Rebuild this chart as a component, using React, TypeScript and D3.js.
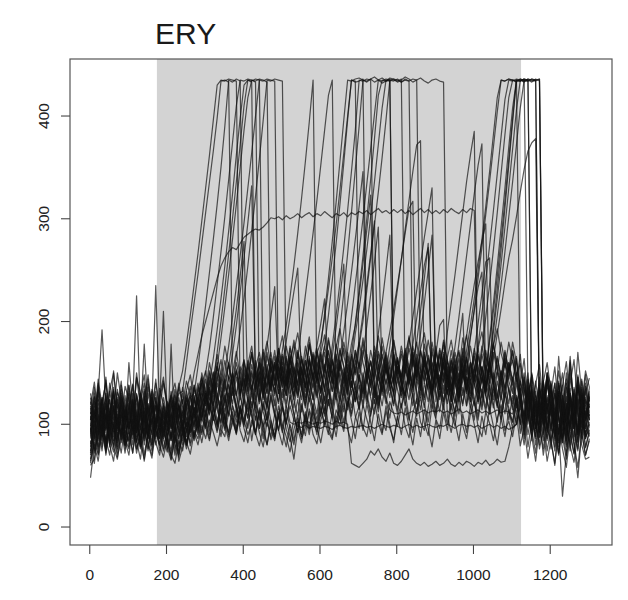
import React from 'react';
import * as d3 from 'd3';

const title = 'ERY';
const xTicks = [0, 200, 400, 600, 800, 1000, 1200];
const yTicks = [0, 100, 200, 300, 400];
const shadeStart = 175;
const shadeEnd = 1124;
const gridStart = 2;
const gridStep = 10;

const s01 = [
  62, 88, 104, 92, 118, 96, 110, 84, 122, 100,
  112, 90, 126, 98, 108, 86, 118, 102, 94, 114,
  100, 122, 108, 130, 132, 160, 190, 218, 246, 276,
  306, 336, 366, 398, 434, 435, 433, 140, 152, 128,
  160, 138, 170, 146, 158, 132, 166, 150, 172, 144,
  150, 176, 158, 182, 164, 196, 226, 256, 286, 318,
  352, 386, 420, 435, 130, 158, 136, 166, 148, 172,
  154, 180, 160, 142, 170, 150, 184, 162, 140, 168,
  152, 176, 158, 186, 164, 144, 172, 156, 182, 160,
  148, 174, 158, 190, 218, 246, 276, 306, 336, 362,
  385, 120, 146, 128, 160, 138, 152, 126, 164, 142,
  130, 150, 118, 142, 104, 128, 96, 138, 112, 84,
  122, 98, 140, 108, 86, 130, 102, 146, 92, 118,
  104,
];
const s02 = [
  74, 100, 86, 124, 94, 112, 80, 106, 92, 128,
  98, 116, 84, 104, 132, 92, 110, 88, 100, 76,
  96, 84, 110, 92, 118, 104, 126, 130, 156, 186,
  216, 248, 280, 314, 350, 390, 435, 433, 436, 434,
  128, 150, 134, 162, 140, 170, 148, 136, 158, 142,
  166, 144, 174, 152, 138, 164, 146, 178, 156, 140,
  168, 150, 182, 160, 144, 172, 156, 138, 166, 148,
  176, 200, 230, 262, 294, 326, 360, 396, 435, 434,
  436, 433, 435, 434, 436, 435, 140, 162, 146, 170,
  152, 134, 160, 144, 172, 150, 138, 164, 148, 176,
  156, 140, 168, 150, 180, 210, 244, 280, 318, 358,
  398, 435, 434, 436, 435, 98, 122, 88, 134, 106,
  142, 116, 90, 128, 104, 150, 118, 94, 136, 110,
  126,
];
const s03 = [
  90, 118, 76, 102, 130, 88, 114, 96, 124, 82,
  108, 94, 120, 80, 112, 100, 92, 118, 104, 86,
  112, 96, 124, 102, 90, 118, 128, 112, 136, 124,
  150, 174, 204, 236, 268, 302, 338, 374, 410, 435,
  434, 436, 435, 433, 120, 146, 130, 158, 138, 166,
  144, 128, 156, 136, 170, 150, 132, 160, 142, 174,
  152, 136, 164, 148, 178, 158, 140, 172, 204, 236,
  268, 300, 334, 368, 402, 435, 434, 436, 435, 130,
  156, 140, 168, 148, 176, 158, 138, 166, 150, 180,
  160, 142, 170, 152, 136, 164, 146, 174, 156, 138,
  166, 148, 176, 156, 140, 170, 152, 180, 160, 144,
  172, 150, 128, 146, 112, 136, 94, 122, 100, 140,
  114, 88, 132, 106, 78, 120, 96, 138, 110, 86,
  98,
];
const s04 = [
  60, 66, 98, 84, 110, 78, 102, 72, 96, 86,
  76, 104, 82, 98, 70, 94, 80, 106, 74, 92,
  82, 70, 96, 78, 104, 88, 112, 96, 120, 104,
  128, 114, 142, 170, 200, 232, 266, 300, 336, 372,
  410, 435, 434, 436, 435, 124, 150, 132, 160, 140,
  118, 146, 128, 156, 134, 112, 140, 122, 150, 130,
  108, 136, 118, 148, 126, 104, 132, 114, 142, 122,
  138, 116, 144, 126, 110, 136, 152, 170, 190, 212,
  236, 260, 286, 310, 317, 120, 144, 126, 152, 134,
  112, 140, 122, 148, 130, 108, 136, 118, 146, 126,
  104, 132, 114, 142, 124, 150, 130, 110, 138, 120,
  146, 124, 100, 126, 90, 112, 80, 104, 70, 96,
  84, 62, 100, 76, 58, 92, 72, 108, 80, 66,
  68,
];
const s05 = [
  104, 130, 96, 122, 140, 108, 134, 100, 126, 116,
  138, 106, 128, 96, 122, 144, 110, 132, 98, 120,
  108, 126, 100, 118, 94, 114, 130, 108, 124, 140,
  120, 146, 130, 156, 184, 214, 246, 280, 314, 350,
  386, 418, 435, 434, 436, 435, 433, 138, 160, 142,
  168, 150, 176, 156, 140, 166, 148, 180, 158, 142,
  170, 152, 184, 162, 146, 174, 156, 140, 168, 150,
  180, 160, 144, 172, 154, 186, 166, 150, 176, 204,
  232, 260, 290, 318, 346, 372, 376, 140, 164, 148,
  172, 154, 182, 160, 144, 170, 152, 184, 164, 146,
  174, 156, 140, 166, 148, 178, 158, 142, 170, 152,
  180, 160, 138, 164, 120, 148, 108, 136, 116, 150,
  138, 104, 166, 122, 98, 160, 114, 170, 130, 106,
  120,
];
const s06 = [
  96, 72, 108, 88, 120, 80, 100, 76, 112, 90,
  84, 118, 92, 78, 106, 86, 124, 94, 80, 104,
  88, 110, 74, 98, 84, 106, 92, 116, 100, 124,
  108, 132, 116, 140, 124, 150, 176, 204, 234, 264,
  296, 330, 364, 400, 435, 434, 436, 435, 434, 130,
  156, 138, 164, 146, 128, 154, 136, 162, 144, 126,
  152, 134, 160, 142, 124, 150, 132, 158, 140, 122,
  148, 130, 156, 138, 120, 146, 128, 154, 136, 118,
  144, 126, 152, 178, 204, 230, 256, 282, 306, 330,
  122, 148, 130, 156, 138, 120, 146, 128, 154, 136,
  118, 144, 126, 152, 134, 116, 142, 124, 150, 132,
  114, 140, 120, 96, 132, 84, 118, 92, 126, 100,
  76, 112, 90, 128, 100, 80, 116, 94, 134, 104,
  88,
];
const s07 = [
  118, 92, 140, 106, 128, 98, 152, 112, 134, 104,
  126, 100, 146, 116, 94, 130, 108, 140, 118, 96,
  122, 106, 134, 112, 96, 126, 110, 138, 120, 104,
  130, 114, 142, 124, 150, 132, 158, 140, 166, 192,
  222, 254, 288, 322, 358, 396, 435, 434, 436, 435,
  434, 142, 166, 148, 172, 154, 136, 162, 146, 170,
  150, 176, 158, 140, 168, 152, 180, 160, 144, 172,
  156, 184, 164, 148, 176, 158, 142, 170, 154, 182,
  162, 146, 174, 156, 140, 168, 150, 178, 160, 144,
  170, 152, 180, 162, 150, 176, 204, 234, 264, 294,
  324, 352, 373, 132, 156, 140, 164, 146, 172, 152,
  162, 144, 120, 146, 106, 134, 96, 124, 142, 110,
  136, 100, 126, 150, 112, 92, 130, 108, 144, 118,
  132,
];
const s08 = [
  108, 84, 120, 94, 74, 112, 88, 126, 98, 80,
  116, 90, 104, 78, 122, 96, 84, 110, 92, 118,
  102, 86, 120, 98, 114, 92, 108, 124, 106, 130,
  118, 140, 164, 192, 222, 254, 288, 324, 362, 398,
  430, 435, 433, 120, 146, 128, 154, 136, 118, 144,
  126, 152, 134, 116, 142, 124, 150, 132, 114, 140,
  122, 148, 130, 112, 138, 120, 146, 128, 110, 136,
  118, 144, 126, 108, 134, 116, 142, 124, 106, 132,
  114, 140, 122, 104, 130, 112, 138, 120, 102, 128,
  110, 136, 118, 100, 126, 112, 138, 160, 186, 212,
  236, 258, 278, 295, 116, 140, 122, 104, 130, 112,
  102, 128, 110, 86, 118, 94, 72, 106, 84, 120,
  98, 74, 110, 88, 66, 100, 80, 48, 92, 70,
  84,
];
const s09 = [
  86, 112, 70, 98, 124, 84, 106, 78, 116, 92,
  102, 80, 114, 88, 96, 74, 108, 86, 100, 118,
  104, 128, 112, 136, 152, 178, 206, 236, 266, 298,
  330, 362, 396, 430, 435, 434, 436, 435, 434, 124,
  150, 132, 158, 140, 122, 148, 130, 156, 138, 164,
  146, 128, 154, 136, 162, 144, 126, 152, 134, 160,
  142, 124, 150, 132, 158, 140, 122, 148, 130, 156,
  138, 120, 146, 128, 154, 136, 118, 144, 126, 152,
  134, 116, 142, 124, 150, 132, 114, 140, 122, 148,
  130, 112, 138, 120, 146, 128, 110, 136, 118, 144,
  126, 108, 134, 116, 142, 164, 188, 212, 238, 262,
  280, 302, 326, 348, 366, 374, 378, 104, 132, 96,
  120, 86, 112, 138, 100, 74, 116, 92, 128, 104,
  112,
];
const s10 = [
  100, 126, 90, 114, 82, 108, 136, 96, 120, 88,
  112, 138, 98, 124, 86, 106, 130, 94, 116, 140,
  118, 96, 122, 104, 130, 110, 92, 116, 100, 126,
  108, 134, 116, 98, 124, 144, 120, 150, 128, 156,
  136, 162, 142, 124, 150, 132, 158, 138, 166, 146,
  172, 196, 224, 254, 286, 320, 356, 394, 435, 140,
  164, 146, 172, 152, 136, 162, 144, 170, 150, 134,
  160, 142, 168, 148, 132, 158, 140, 166, 146, 130,
  156, 138, 164, 144, 128, 154, 136, 162, 142, 126,
  152, 134, 160, 140, 124, 150, 132, 158, 138, 122,
  148, 130, 156, 136, 162, 196, 232, 270, 310, 352,
  394, 435, 434, 436, 130, 104, 142, 116, 90, 128,
  102, 78, 118, 94, 136, 110, 84, 124, 98, 140,
  116,
];
const s11 = [
  94, 120, 102, 78, 112, 90, 128, 104, 82, 116,
  96, 124, 88, 110, 134, 100, 80, 118, 96, 108,
  86, 112, 94, 120, 100, 82, 108, 126, 104, 118,
  130, 110, 138, 118, 146, 126, 108, 134, 152, 130,
  144, 122, 150, 132, 160, 138, 118, 146, 128, 156,
  136, 164, 142, 124, 152, 134, 162, 140, 168, 148,
  176, 208, 242, 278, 316, 356, 396, 435, 434, 436,
  437, 435, 433, 436, 438, 435, 432, 434, 437, 436,
  433, 435, 438, 436, 433, 435, 437, 434, 432, 435,
  436, 434, 433, 140, 162, 144, 170, 150, 134, 160,
  142, 168, 148, 132, 158, 140, 166, 146, 130, 156,
  138, 164, 126, 100, 138, 112, 88, 124, 104, 146,
  118, 94, 132, 108, 150, 122, 96, 136, 112, 88,
  124,
];
const s12 = [
  112, 86, 124, 100, 76, 108, 132, 94, 118, 84,
  106, 130, 92, 114, 84, 120, 98, 126, 90, 110,
  94, 118, 82, 106, 124, 98, 112, 88, 116, 132,
  112, 136, 120, 146, 124, 104, 130, 150, 128, 112,
  138, 158, 134, 116, 144, 126, 152, 170, 148, 130,
  156, 138, 164, 144, 126, 154, 136, 166, 146, 128,
  158, 176, 206, 240, 276, 314, 354, 396, 435, 434,
  150, 172, 154, 138, 164, 146, 176, 156, 140, 168,
  148, 132, 160, 142, 170, 150, 134, 162, 144, 174,
  154, 138, 166, 146, 130, 158, 140, 170, 152, 184,
  212, 242, 272, 304, 336, 370, 404, 435, 434, 436,
  435, 433, 436, 434, 435, 104, 132, 92, 120, 146,
  110, 84, 124, 100, 140, 114, 88, 126, 102, 134,
  108,
];
const s13 = [
  78, 104, 90, 116, 70, 98, 84, 110, 94, 72,
  100, 86, 112, 76, 96, 120, 88, 104, 80, 98,
  76, 92, 70, 88, 102, 80, 96, 110, 92, 116,
  98, 120, 104, 130, 112, 96, 122, 140, 118, 104,
  128, 112, 138, 120, 104, 132, 114, 140, 122, 106,
  134, 116, 142, 124, 108, 136, 118, 146, 126, 110,
  138, 120, 148, 176, 206, 238, 272, 308, 346, 386,
  435, 434, 436, 435, 126, 150, 132, 158, 138, 120,
  146, 128, 154, 136, 118, 144, 126, 152, 134, 116,
  142, 124, 150, 132, 114, 140, 122, 148, 130, 156,
  138, 176, 208, 240, 274, 308, 344, 380, 416, 435,
  434, 436, 435, 433, 436, 434, 435, 436, 106, 86,
  120, 96, 72, 108, 84, 126, 98, 76, 114, 92,
  100,
];
const s14 = [
  122, 98, 134, 110, 146, 104, 128, 116, 142, 100,
  130, 108, 150, 122, 100, 136, 114, 144, 106, 126,
  108, 132, 114, 140, 120, 98, 126, 106, 134, 146,
  124, 152, 132, 160, 138, 118, 146, 128, 154, 136,
  162, 142, 170, 148, 128, 156, 136, 164, 144, 174,
  152, 132, 160, 140, 168, 148, 176, 154, 136, 162,
  142, 170, 150, 132, 158, 192, 228, 266, 306, 348,
  390, 435, 434, 436, 433, 435, 437, 434, 435, 140,
  162, 146, 172, 152, 136, 164, 144, 170, 150, 134,
  160, 142, 168, 148, 132, 158, 140, 166, 146, 130,
  156, 138, 172, 204, 236, 270, 306, 344, 382, 418,
  435, 434, 436, 435, 434, 436, 435, 100, 126, 94,
  118, 140, 104, 82, 122, 166, 112, 90, 130, 106,
  128,
];
const s15 = [
  70, 96, 84, 108, 76, 100, 118, 88, 104, 80,
  94, 72, 106, 84, 116, 92, 78, 102, 86, 112,
  90, 74, 100, 64, 78, 94, 108, 88, 100, 82,
  104, 90, 116, 98, 124, 106, 92, 118, 102, 128,
  110, 96, 122, 104, 130, 112, 98, 126, 108, 134,
  116, 100, 128, 110, 92, 120, 104, 132, 114, 98,
  124, 108, 136, 116, 100, 128, 112, 140, 168, 198,
  230, 264, 300, 338, 378, 420, 435, 434, 436, 435,
  434, 436, 130, 154, 136, 162, 142, 124, 150, 132,
  158, 140, 122, 148, 130, 156, 138, 120, 146, 128,
  154, 136, 118, 150, 184, 218, 254, 292, 330, 370,
  408, 435, 434, 436, 435, 433, 436, 434, 96, 120,
  84, 108, 130, 96, 70, 104, 124, 90, 112, 78,
  94,
];
const s16 = [
  130, 106, 144, 118, 96, 132, 110, 150, 124, 102,
  138, 114, 96, 128, 148, 110, 132, 100, 124, 142,
  120, 100, 128, 108, 136, 116, 96, 122, 140, 118,
  144, 124, 150, 130, 110, 138, 160, 136, 116, 142,
  122, 148, 130, 156, 134, 114, 140, 164, 142, 120,
  146, 128, 154, 134, 160, 140, 120, 148, 170, 150,
  130, 156, 136, 162, 144, 124, 150, 132, 158, 188,
  212, 240, 270, 302, 336, 372, 408, 435, 434, 436,
  435, 433, 436, 434, 136, 160, 142, 168, 148, 130,
  156, 138, 164, 144, 126, 152, 134, 160, 140, 122,
  148, 130, 156, 136, 162, 190, 222, 256, 292, 330,
  368, 406, 435, 434, 436, 435, 434, 436, 92, 116,
  138, 102, 78, 114, 92, 130, 106, 82, 120, 96,
  110,
];
const s17 = [
  98, 122, 108, 90, 130, 100, 116, 86, 110, 96,
  120, 94, 108, 130, 100, 88, 114, 96, 122, 104,
  114, 128, 110, 136, 120, 142, 128, 150, 168, 186,
  200, 214, 228, 242, 254, 262, 268, 272, 270, 276,
  282, 285, 288, 290, 289, 292, 296, 301, 300, 302,
  299, 303, 300, 302, 305, 301, 304, 306, 302, 305,
  303, 307, 304, 301, 305, 303, 306, 302, 306, 304,
  307, 305, 308, 304, 307, 310, 306, 308, 305, 309,
  306, 309, 305, 308, 304, 307, 310, 306, 309, 305,
  308, 305, 309, 306, 310, 307, 305, 309, 306, 310,
  308, 132, 156, 138, 164, 144, 126, 152, 134, 160,
  142, 166, 130, 108, 144, 118, 96, 132, 110, 150,
  124, 100, 138, 114, 90, 128, 104, 146, 120, 96,
  130,
];
const s18 = [
  66, 92, 78, 104, 86, 70, 98, 82, 108, 76,
  94, 72, 100, 84, 66, 90, 106, 80, 96, 74,
  88, 70, 62, 84, 74, 96, 82, 104, 90, 112,
  96, 118, 104, 126, 110, 94, 120, 132, 114, 100,
  124, 106, 130, 112, 96, 120, 104, 128, 110, 94,
  116, 102, 118, 104, 98, 97, 99, 96, 98, 97,
  96, 98, 97, 95, 98, 99, 97, 96, 98, 97,
  98, 99, 97, 98, 96, 98, 100, 98, 97, 99,
  98, 96, 98, 100, 97, 99, 97, 98, 100, 98,
  97, 99, 98, 100, 98, 96, 99, 100, 98, 99,
  97, 99, 96, 98, 100, 97, 99, 96, 98, 95,
  97, 100, 118, 94, 130, 108, 86, 122, 100, 140,
  112, 90, 128, 104, 80, 118, 96, 136, 110, 86,
  102,
];
const s19 = [
  48, 80, 64, 92, 72, 100, 78, 66, 94, 84,
  70, 98, 76, 88, 64, 90, 74, 96, 80, 68,
  86, 66, 90, 72, 96, 80, 100, 86, 108, 92,
  114, 98, 122, 104, 88, 112, 130, 108, 94, 118,
  100, 124, 108, 90, 116, 98, 122, 104, 88, 112,
  96, 118, 102, 100, 102, 101, 103, 102, 100, 102,
  101, 103, 102, 100, 103, 101, 102, 100, 62, 60,
  58, 62, 66, 74, 70, 76, 68, 64, 72, 62,
  60, 64, 70, 76, 66, 62, 60, 63, 59, 61,
  64, 60, 62, 66, 61, 59, 63, 60, 64, 62,
  59, 63, 61, 65, 60, 62, 66, 63, 64, 78,
  96, 100, 122, 98, 136, 110, 88, 126, 104, 144,
  116, 92, 70, 106, 84, 124, 98, 74, 112, 90,
  106,
];
const s20 = [
  72, 110, 130, 192, 120, 96, 132, 104, 88, 118,
  98, 124, 92, 114, 80, 106, 126, 94, 116, 102,
  84, 108, 92, 118, 98, 128, 110, 136, 118, 150,
  132, 160, 140, 168, 148, 176, 156, 184, 212, 244,
  278, 130, 152, 134, 160, 140, 122, 148, 130, 156,
  138, 120, 146, 128, 154, 134, 116, 142, 124, 150,
  132, 114, 140, 166, 194, 224, 256, 130, 152, 134,
  116, 142, 124, 150, 130, 112, 138, 120, 146, 128,
  110, 136, 118, 144, 126, 108, 134, 116, 142, 124,
  106, 132, 114, 140, 122, 150, 178, 208, 118, 140,
  122, 104, 130, 112, 138, 120, 102, 128, 110, 136,
  118, 100, 126, 90, 116, 138, 104, 80, 120, 96,
  132, 108, 84, 122, 98, 162, 114, 90, 128, 104,
  118,
];
const s21 = [
  88, 114, 98, 126, 106, 84, 118, 100, 130, 108,
  94, 120, 225, 112, 90, 116, 100, 126, 104, 88,
  112, 96, 118, 88, 104, 80, 100, 116, 96, 120,
  104, 126, 108, 92, 116, 100, 124, 106, 90, 114,
  98, 120, 84, 108, 92, 78, 102, 88, 110, 94,
  80, 104, 88, 66, 96, 82, 106, 90, 112, 96,
  118, 100, 124, 106, 130, 112, 136, 118, 142, 124,
  148, 130, 154, 136, 160, 188, 218, 250, 284, 140,
  162, 144, 168, 150, 132, 158, 140, 164, 146, 128,
  152, 134, 158, 140, 122, 146, 128, 152, 134, 116,
  140, 122, 146, 128, 110, 134, 116, 140, 122, 104,
  128, 110, 132, 150, 116, 94, 128, 106, 140, 118,
  96, 130, 108, 86, 120, 98, 134, 112, 90, 124,
  106,
];
const s22 = [
  100, 76, 110, 88, 120, 94, 78, 106, 90, 114,
  96, 122, 104, 84, 112, 96, 118, 235, 110, 92,
  118, 100, 86, 110, 94, 120, 104, 128, 112, 136,
  118, 142, 124, 150, 130, 112, 138, 120, 146, 128,
  154, 134, 116, 142, 124, 150, 176, 204, 234, 136,
  160, 142, 168, 148, 130, 156, 138, 164, 144, 170,
  150, 132, 158, 140, 166, 146, 128, 154, 136, 162,
  142, 168, 196, 226, 258, 292, 140, 162, 144, 170,
  150, 132, 158, 140, 166, 146, 172, 152, 134, 160,
  142, 168, 148, 130, 156, 138, 164, 146, 172, 196,
  222, 250, 280, 312, 346, 382, 418, 435, 434, 436,
  435, 434, 130, 108, 144, 118, 96, 134, 112, 150,
  126, 102, 140, 116, 92, 130, 108, 148, 122, 98,
  136,
];
const s23 = [
  110, 136, 96, 124, 102, 140, 116, 92, 128, 106,
  132, 110, 94, 122, 140, 104, 126, 100, 118, 210,
  106, 124, 100, 86, 112, 94, 118, 100, 126, 108,
  132, 114, 140, 120, 102, 128, 110, 136, 116, 98,
  124, 106, 132, 114, 96, 122, 104, 130, 112, 94,
  120, 102, 128, 110, 92, 118, 100, 126, 108, 90,
  116, 98, 124, 106, 88, 114, 96, 122, 104, 86,
  112, 94, 120, 102, 84, 110, 92, 118, 100, 82,
  108, 90, 116, 98, 80, 106, 88, 114, 96, 78,
  104, 86, 112, 94, 120, 102, 84, 110, 92, 118,
  100, 82, 108, 90, 116, 98, 80, 106, 88, 114,
  96, 120, 102, 80, 110, 88, 64, 98, 76, 108,
  84, 60, 96, 30, 72, 104, 82, 58, 92, 70,
  86,
];
const s24 = [
  84, 62, 96, 74, 108, 80, 64, 92, 72, 100,
  78, 104, 84, 66, 96, 76, 100, 82, 70, 94,
  80, 178, 88, 70, 92, 76, 98, 84, 104, 90,
  110, 94, 116, 100, 122, 106, 90, 112, 96, 118,
  102, 126, 108, 92, 114, 98, 80, 104, 88, 110,
  94, 78, 100, 84, 106, 90, 112, 96, 120, 104,
  128, 110, 134, 116, 140, 164, 190, 218, 248, 280,
  312, 346, 140, 162, 144, 168, 148, 130, 156, 138,
  164, 144, 126, 152, 134, 160, 188, 218, 250, 284,
  150, 172, 154, 136, 162, 144, 126, 152, 134, 160,
  140, 122, 148, 130, 156, 136, 118, 144, 126, 152,
  134, 116, 142, 124, 100, 132, 108, 146, 120, 94,
  128, 104, 142, 116, 90, 126, 100, 138, 112, 148,
  122,
];
const s25 = [
  126, 102, 138, 114, 92, 124, 104, 134, 110, 96,
  160, 116, 98, 130, 108, 90, 120, 100, 114, 92,
  104, 90, 114, 96, 80, 102, 88, 110, 94, 118,
  100, 86, 108, 94, 118, 100, 84, 106, 92, 114,
  96, 82, 104, 90, 112, 94, 80, 100, 86, 108,
  92, 114, 96, 80, 102, 88, 110, 94, 116, 98,
  82, 104, 90, 112, 96, 120, 102, 126, 108, 132,
  114, 138, 120, 144, 126, 150, 132, 156, 138, 162,
  144, 168, 150, 174, 156, 180, 210, 242, 276, 130,
  152, 134, 158, 140, 164, 146, 128, 154, 136, 160,
  142, 166, 148, 172, 152, 178, 206, 236, 268, 302,
  336, 372, 408, 435, 434, 436, 435, 98, 124, 92,
  116, 140, 106, 84, 118, 96, 130, 108, 86, 112,
  98,
];
const s26 = [
  116, 90, 128, 104, 82, 112, 96, 124, 100, 86,
  118, 96, 130, 104, 178, 110, 90, 122, 98, 116,
  94, 120, 102, 126, 108, 132, 114, 138, 120, 144,
  126, 150, 132, 156, 138, 162, 144, 168, 196, 228,
  262, 296, 332, 140, 164, 146, 170, 150, 132, 158,
  140, 166, 146, 128, 154, 136, 162, 142, 124, 150,
  132, 158, 138, 120, 146, 128, 154, 134, 116, 142,
  124, 150, 130, 112, 138, 120, 146, 126, 114, 111,
  110, 112, 109, 111, 113, 110, 112, 114, 111, 113,
  112, 114, 111, 113, 110, 112, 115, 111, 113, 110,
  112, 114, 111, 113, 110, 112, 114, 111, 113, 112,
  110, 126, 100, 136, 112, 88, 124, 102, 142, 118,
  94, 130, 106, 82, 120, 98, 136, 114, 90, 126,
  104,
];
const s27 = [
  92, 108, 131, 97, 84, 115, 122, 101, 138, 117,
  95, 103, 129, 112, 88, 99, 134, 121, 106, 93,
  110, 87, 96, 119, 104, 125, 112, 98, 131, 140,
  122, 135, 151, 127, 118, 144, 159, 137, 128, 149,
  163, 141, 132, 155, 170, 148, 137, 161, 152, 174,
  158, 181, 205, 229, 252, 138, 124, 149, 166, 142,
  131, 157, 171, 146, 135, 160, 148, 129, 153, 168,
  144, 126, 150, 161, 139, 118, 142, 158, 133, 147,
  165, 140, 128, 152, 178, 203, 229, 255, 272, 134,
  149, 127, 143, 163, 138, 121, 145, 159, 132, 150,
  169, 143, 131, 157, 146, 124, 151, 138, 160, 134,
  120, 146, 128, 105, 137, 94, 121, 140, 99, 126,
  108, 133, 91, 117, 144, 102, 125, 83, 115, 137,
  112,
];
const s28 = [
  64, 83, 71, 97, 110, 86, 73, 102, 91, 79,
  88, 105, 76, 94, 113, 82, 70, 99, 107, 85,
  73, 92, 81, 68, 90, 101, 79, 94, 86, 105,
  97, 84, 108, 119, 95, 88, 112, 103, 91, 116,
  104, 90, 99, 121, 108, 86, 113, 97, 84, 109,
  118, 95, 83, 106, 124, 101, 89, 115, 102, 93,
  110, 127, 98, 87, 114, 106, 93, 120, 132, 108,
  96, 119, 105, 91, 116, 128, 103, 94, 122, 111,
  98, 117, 131, 107, 92, 113, 126, 101, 89, 118,
  105, 96, 121, 134, 110, 98, 125, 142, 163, 186,
  210, 233, 248, 128, 114, 137, 120, 105, 131, 116,
  102, 124, 91, 113, 78, 104, 120, 87, 109, 74,
  98, 116, 82, 105, 127, 90, 71, 103, 118, 88,
  95,
];
const s29 = [
  104, 127, 93, 116, 143, 109, 98, 131, 122, 101,
  117, 139, 106, 95, 124, 148, 113, 102, 135, 120,
  98, 116, 129, 104, 93, 121, 137, 112, 126, 145,
  131, 118, 142, 156, 133, 121, 147, 138, 160, 143,
  127, 152, 168, 139, 150, 173, 146, 133, 158, 171,
  149, 137, 162, 178, 153, 141, 166, 185, 160, 176,
  198, 222, 147, 163, 139, 158, 174, 150, 136, 161,
  180, 207, 236, 266, 298, 143, 168, 152, 137, 164,
  149, 171, 156, 139, 163, 180, 154, 142, 167, 151,
  136, 160, 177, 149, 134, 158, 172, 146, 163, 140,
  155, 174, 148, 137, 162, 179, 153, 141, 166, 150,
  171, 147, 159, 134, 118, 150, 127, 109, 141, 160,
  132, 114, 152, 126, 104, 139, 163, 120, 97, 131,
  145,
];
const s30 = [
  81, 99, 116, 88, 106, 124, 93, 112, 85, 103,
  121, 96, 83, 110, 127, 91, 104, 118, 87, 112,
  99, 84, 106, 117, 92, 80, 103, 114, 97, 108,
  123, 109, 131, 114, 101, 126, 139, 118, 107, 133,
  145, 126, 112, 138, 151, 129, 117, 143, 134, 122,
  148, 136, 154, 127, 141, 163, 145, 131, 157, 169,
  180, 204, 232, 262, 294, 328, 364, 400, 435, 433,
  434, 436, 142, 161, 138, 124, 150, 167, 143, 131,
  156, 140, 128, 153, 170, 146, 133, 159, 144, 127,
  151, 168, 142, 129, 157, 139, 126, 148, 165, 143,
  171, 198, 227, 258, 262, 140, 125, 152, 136, 160,
  143, 119, 135, 101, 127, 148, 112, 93, 130, 116,
  139, 105, 122, 88, 113, 135, 96, 120, 142, 109,
  127,
];
const s31 = [
  97, 74, 88, 112, 79, 101, 93, 68, 85, 107,
  83, 96, 72, 90, 108, 81, 67, 94, 86, 103,
  78, 65, 87, 74, 96, 83, 71, 92, 80, 99,
  86, 104, 92, 79, 97, 110, 88, 101, 115, 94,
  83, 102, 114, 91, 79, 98, 107, 85, 96, 118,
  100, 88, 73, 95, 109, 86, 97, 112, 90, 81,
  104, 116, 93, 85, 108, 99, 121, 95, 82, 106,
  118, 97, 88, 110, 124, 101, 90, 113, 96, 85,
  107, 120, 98, 87, 111, 125, 102, 94, 116, 140,
  168, 196, 202, 108, 92, 115, 127, 99, 86, 110,
  123, 97, 88, 112, 101, 84, 106, 119, 94, 103,
  88, 110, 79, 97, 67, 91, 108, 76, 95, 64,
  85, 102, 72, 94, 111, 79, 63, 90, 104, 77,
  92,
];
const s32 = [
  119, 141, 108, 126, 95, 133, 150, 117, 104, 137,
  124, 102, 145, 131, 112, 139, 121, 98, 128, 146,
  113, 127, 140, 117, 106, 133, 148, 124, 111, 139,
  152, 130, 118, 144, 163, 137, 125, 150, 171, 146,
  133, 158, 176, 149, 137, 162, 181, 155, 143, 168,
  186, 159, 146, 171, 189, 163, 150, 177, 158, 144,
  169, 187, 161, 148, 175, 193, 166, 152, 178, 196,
  225, 256, 289, 323, 146, 171, 158, 139, 163, 182,
  155, 143, 168, 184, 160, 147, 173, 189, 164, 150,
  176, 152, 141, 165, 182, 158, 146, 170, 187, 161,
  148, 174, 190, 166, 151, 177, 193, 169, 155, 180,
  162, 141, 168, 127, 150, 112, 139, 158, 121, 147,
  130, 156, 115, 138, 161, 124, 102, 143, 119, 152,
  136,
];

const series = [
  s01, s02, s03, s04, s05, s06, s07, s08, s09, s10, s11, s12, s13, s14, s15, s16,
  s17, s18, s19, s20, s21, s22, s23, s24, s25, s26, s27, s28, s29, s30, s31, s32,
];

const W = 628;
const H = 600;
const left = 70;
const right = 612;
const top = 59;
const bottom = 545;
const font = '"Liberation Sans", Arial, Helvetica, sans-serif';

export default function App() {
  const x = d3.scaleLinear().domain([-51.5, 1361]).range([left, right]);
  const y = d3.scaleLinear().domain([-17.5, 455.5]).range([bottom, top]);
  const line = d3
    .line<number>()
    .x((_, i) => x(gridStart + gridStep * i))
    .y((d) => y(d));

  return (
    <svg
      width={W}
      height={H}
      viewBox={`0 0 ${W} ${H}`}
      style={{ position: 'absolute', left: 0, top: 0, background: '#fff' }}
    >
      <defs>
        <clipPath id="plotClip">
          <rect x={left} y={top} width={right - left} height={bottom - top} />
        </clipPath>
      </defs>
      <rect x={0} y={0} width={W} height={H} fill="#fff" />
      <rect
        x={x(shadeStart)}
        y={top}
        width={x(shadeEnd) - x(shadeStart)}
        height={bottom - top}
        fill="#d3d3d3"
      />
      <g
        clipPath="url(#plotClip)"
        fill="none"
        stroke="#111"
        strokeOpacity={0.7}
        strokeWidth={1.2}
        strokeLinejoin="round"
      >
        {series.map((s, k) => (
          <path key={k} d={line(s) || ''} />
        ))}
      </g>
      <rect x={left} y={top} width={right - left} height={bottom - top} fill="none" stroke="#555" strokeWidth={1.2} />
      <g stroke="#444" strokeWidth={1.1}>
        {xTicks.map((t) => (
          <line key={t} x1={x(t)} x2={x(t)} y1={bottom} y2={bottom + 9} />
        ))}
        {yTicks.map((t) => (
          <line key={t} x1={left - 9} x2={left} y1={y(t)} y2={y(t)} />
        ))}
      </g>
      <g fontFamily={font} fontSize={15.5} fill="#222">
        {xTicks.map((t) => (
          <text key={t} x={x(t)} y={580} textAnchor="middle">
            {t}
          </text>
        ))}
        {yTicks.map((t) => (
          <text key={t} transform={`translate(49,${y(t)}) rotate(-90)`} textAnchor="middle">
            {t}
          </text>
        ))}
      </g>
      <text x={155} y={44} fontFamily={font} fontSize={30} fill="#1a1a1a">
        {title}
      </text>
    </svg>
  );
}
